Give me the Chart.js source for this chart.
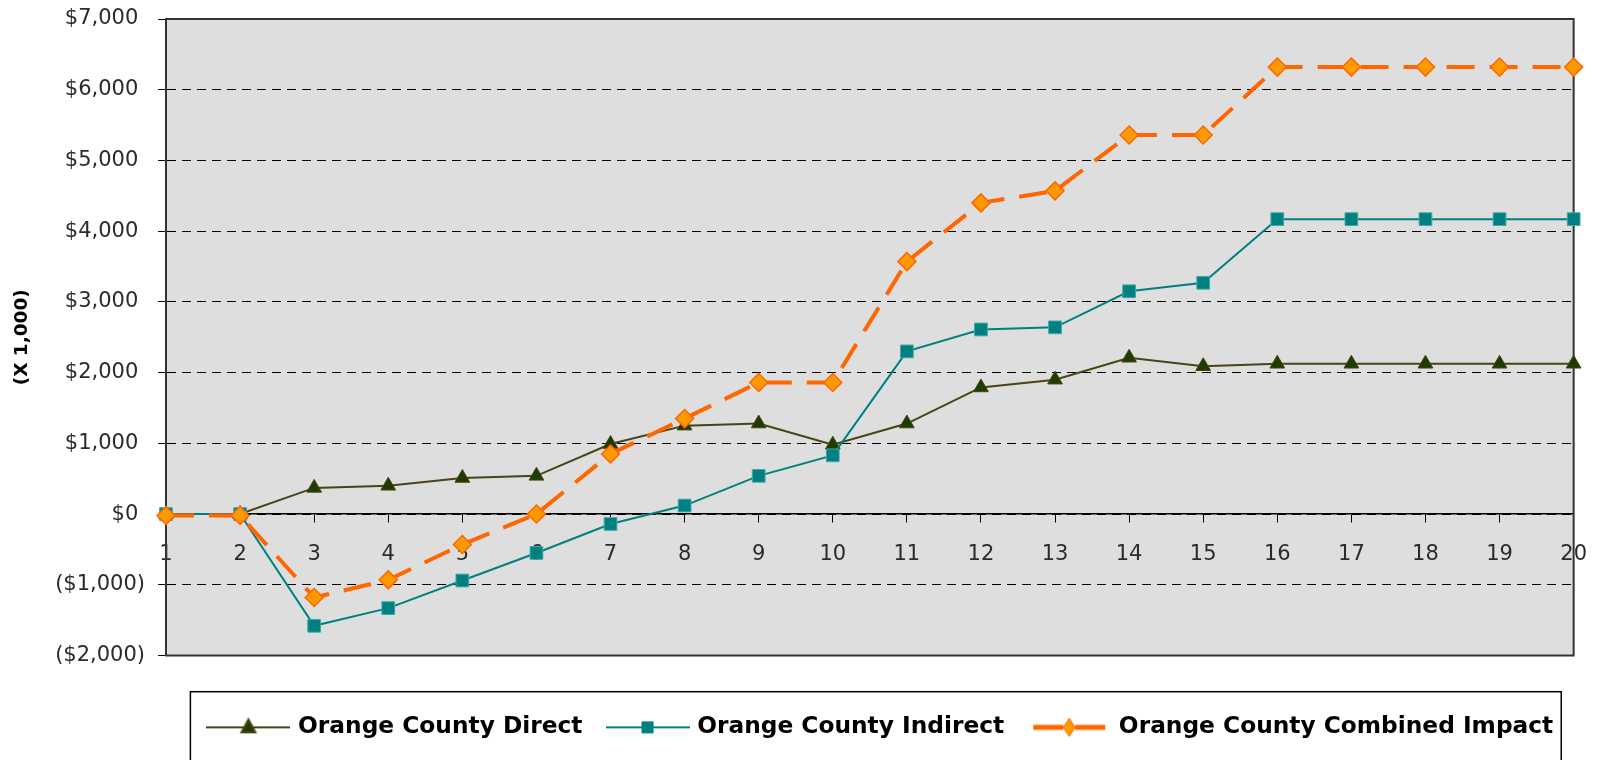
<!DOCTYPE html>
<html>
<head>
<meta charset="utf-8">
<script src="https://cdn.jsdelivr.net/npm/chart.js@4"></script>
<style>
    html, body { margin: 0; padding: 0; background: #ffffff; }
    #wrap { width: 1607px; height: 760px; }
</style>
</head>
<body>
<div id="wrap"><canvas id="chart_impact"></canvas></div>
<script>
const years = ['1', '2', '3', '4', '5', '6', '7', '8', '9', '10',
               '11', '12', '13', '14', '15', '16', '17', '18', '19', '20'];

const directValues   = [0, 0, 370, 400, 510, 540, 990, 1250, 1280, 980,
                        1280, 1790, 1900, 2210, 2090, 2125, 2125, 2125, 2125, 2125];
const indirectValues = [0, 0, -1580, -1330, -940, -550, -140, 120, 540, 830,
                        2300, 2610, 2640, 3150, 3270, 4170, 4170, 4170, 4170, 4170];
const combinedValues = [-20, -20, -1180, -930, -430, 0, 850, 1350, 1860, 1860,
                        3570, 4400, 4570, 5360, 5360, 6320, 6320, 6320, 6320, 6320];

const seriesNames = ['Orange County Direct', 'Orange County Indirect', 'Orange County Combined Impact'];
const axisTitle   = '(X 1,000)';
const yMin  = -2000;
const yMax  = 7000;
const yStep = 1000;

function moneyLabel(value) {
    const text = '$' + Math.abs(value).toLocaleString('en-US');
    // negatives in parentheses, positives padded like the ")" slot
    return value < 0 ? '(' + text + ')' : text + ' ';
}

// little line + marker pictures for the legend
function legendPicture(kind) {
    const c = document.createElement('canvas');
    c.width = 84;
    c.height = 26;
    const g = c.getContext('2d');
    const mid = 13;
    if (kind === 'triangle') {
        g.strokeStyle = '#4a4314';
        g.lineWidth = 2;
        g.beginPath(); g.moveTo(0, mid); g.lineTo(84, mid); g.stroke();
        g.fillStyle = '#1e3c00';
        g.beginPath(); g.moveTo(42, mid - 8); g.lineTo(49, mid + 5); g.lineTo(35, mid + 5); g.closePath();
        g.fill(); g.stroke();
    } else if (kind === 'rect') {
        g.strokeStyle = '#008080';
        g.lineWidth = 2;
        g.beginPath(); g.moveTo(0, mid); g.lineTo(84, mid); g.stroke();
        g.fillStyle = '#008080';
        g.fillRect(36, mid - 6, 12, 12);
    } else {
        g.strokeStyle = '#ff6600';
        g.lineWidth = 5;
        g.beginPath(); g.moveTo(6, mid); g.lineTo(36, mid); g.moveTo(48, mid); g.lineTo(78, mid); g.stroke();
        g.fillStyle = '#ff9900';
        g.lineWidth = 1;
        g.beginPath(); g.moveTo(42, mid - 9); g.lineTo(48, mid); g.lineTo(42, mid + 9); g.lineTo(36, mid); g.closePath();
        g.fill(); g.stroke();
    }
    return c;
}

const legendPictures = [legendPicture('triangle'), legendPicture('rect'), legendPicture('rectRot')];

const plotFrame = {
    id: 'plotFrame',
    afterLayout(chart) {
        // the legend sits a bit right of the plot centre
        chart.legend.left += 12;
        chart.legend.right += 12;
    },
    beforeDraw(chart) {
        const {ctx, chartArea: a} = chart;
        ctx.save();
        ctx.fillStyle = '#dedede';
        ctx.fillRect(a.left, a.top, a.width, a.height);
        ctx.restore();
    },
    beforeDatasetsDraw(chart) {
        const {ctx, chartArea: a} = chart;
        ctx.save();
        ctx.strokeStyle = '#333333';
        ctx.lineWidth = 2;
        ctx.strokeRect(a.left, a.top, a.width, a.height);
        ctx.restore();
    },
    afterDraw(chart) {
        const boxes = chart.legend.legendHitBoxes;
        if (!boxes || !boxes.length) return;
        const last = boxes[boxes.length - 1];
        const ctx = chart.ctx;
        ctx.save();
        ctx.strokeStyle = '#000000';
        ctx.lineWidth = 1.5;
        const left = boxes[0].left - 20;
        const right = last.left + last.width + 8;
        const top = boxes[0].top - 24;
        ctx.strokeRect(left, top, right - left, chart.height + 10 - top);
        ctx.restore();
    },
};

function showImpact() {
    Chart.defaults.font.family = "'DejaVu Sans', sans-serif";

    return new Chart(document.getElementById('chart_impact'), {
        type   : 'line',
        data   : {
            labels  : years,
            datasets: [{
                label               : seriesNames[0],
                data                : directValues,
                borderColor         : '#4a4314',
                borderWidth         : 2,
                pointStyle          : 'triangle',
                pointRadius         : 8.5,
                pointHoverRadius    : 8.5,
                pointBackgroundColor: '#1e3c00',
                pointBorderColor    : '#4a4314',
                pointBorderWidth    : 1,
                order               : 3,
            }, {
                label               : seriesNames[1],
                data                : indirectValues,
                borderColor         : '#008080',
                borderWidth         : 2,
                pointStyle          : 'rect',
                pointRadius         : 9,
                pointHoverRadius    : 9,
                pointBackgroundColor: '#008080',
                pointBorderColor    : '#40a8a8',
                pointBorderWidth    : 1,
                order               : 2,
            }, {
                label               : seriesNames[2],
                data                : combinedValues,
                borderColor         : '#ff6600',
                borderWidth         : 4,
                borderDash          : [28, 15],
                pointStyle          : 'rectRot',
                pointRadius         : 9,
                pointHoverRadius    : 9,
                pointBackgroundColor: '#ff9900',
                pointBorderColor    : '#ff6600',
                pointBorderWidth    : 1.5,
                order               : 1,
            }],
        },
        options: {
            maintainAspectRatio: false,
            responsive         : true,
            animation          : false,
            clip               : false,
            layout             : {padding: {top: 19, right: 20, bottom: 11, left: 0}},
            elements           : {line: {tension: 0}},
            plugins            : {
                tooltip: {enabled: false},
                legend : {
                    position : 'bottom',
                    fullSize : false,
                    title    : {display: true, text: ' ', font: {size: 1}, padding: {top: 32, bottom: 0}},
                    labels   : {
                        usePointStyle : true,
                        pointStyleWidth: 76,
                        padding       : 27,
                        color         : '#000000',
                        font          : {size: 23.3, weight: 'bold'},
                        generateLabels: chart => chart.data.datasets.map((ds, i) => ({
                            text        : ds.label,
                            pointStyle  : legendPictures[i],
                            fillStyle   : 'transparent',
                            strokeStyle : 'transparent',
                            lineWidth   : 0,
                            hidden      : false,
                            datasetIndex: i,
                            fontColor   : '#000000',
                        })),
                    },
                },
            },
            scales             : {
                y: {
                    min     : yMin,
                    max     : yMax,
                    afterFit: s => {
                        s.width = 166;
                        s.paddingTop = 0;
                        s.paddingBottom = 0;
                    },
                    ticks   : {
                        stepSize: yStep,
                        padding : 13,
                        color   : '#2b2b2b',
                        font    : {size: 21},
                        callback: v => moneyLabel(v),
                    },
                    grid    : {
                        color        : '#000000',
                        lineWidth    : 1,
                        tickLength   : 8,
                        tickColor    : '#000000',
                        tickBorderDash: [],
                    },
                    border  : {display: true, color: '#000000', width: 2, dash: [9, 6]},
                    title   : {
                        display: true,
                        text   : axisTitle,
                        color  : '#000000',
                        font   : {size: 18.5, weight: 'bold'},
                        padding: {top: 11, bottom: 0},
                    },
                },
                x: {
                    position: {y: 0},
                    offset  : false,
                    afterFit: s => { s.height = 32; },
                    ticks   : {
                        padding    : 20,
                        color      : '#2b2b2b',
                        font       : {size: 21},
                        maxRotation: 0,
                        autoSkip   : false,
                    },
                    grid    : {
                        drawOnChartArea: false,
                        tickLength     : 8,
                        tickColor      : '#000000',
                        tickBorderDash : [],
                    },
                    border  : {display: true, color: '#000000', width: 1.5},
                },
            },
        },
        plugins: [plotFrame],
    });
}

showImpact();
</script>
</body>
</html>
